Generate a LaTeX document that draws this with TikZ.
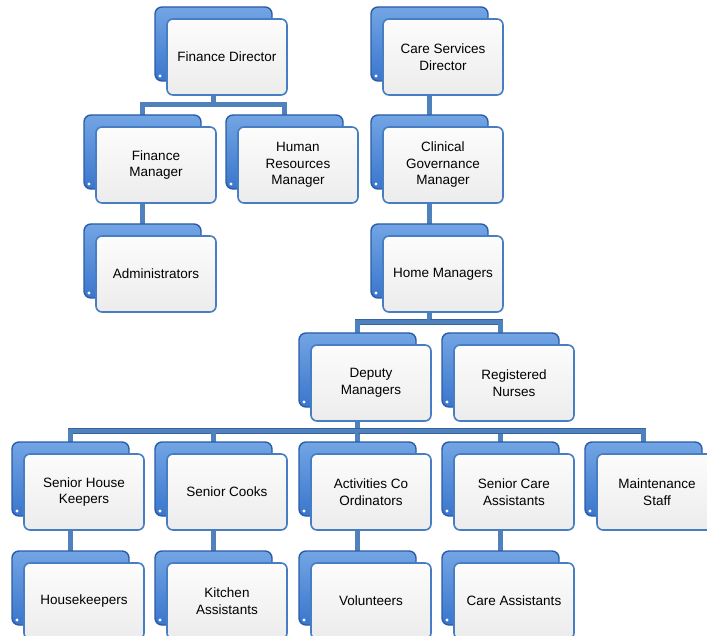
\documentclass[tikz,border=0pt]{standalone}
\usepackage{fontspec}
\setmainfont{Liberation Sans}
\usetikzlibrary{calc}
\pgfdeclarelayer{bg}
\pgfsetlayers{bg,main}
\definecolor{backfillT}{RGB}{115,165,228}
\definecolor{backfillB}{RGB}{58,118,205}
\definecolor{backline}{RGB}{42,92,168}
\definecolor{frontT}{RGB}{252,252,252}
\definecolor{frontB}{RGB}{236,236,236}
\definecolor{frontline}{RGB}{70,125,195}
\definecolor{connout}{RGB}{55,100,160}
\definecolor{connin}{RGB}{79,129,189}
\tikzset{
  backbox/.style={rectangle, rounded corners=7pt, minimum width=117pt, minimum height=74pt,
    top color=backfillT, bottom color=backfillB, draw=backline, line width=1.4pt,
    inner sep=0pt,
    path picture={\fill[white] ($(path picture bounding box.south west)+(5,-5)$) circle (1.6pt);}},
  frontbox/.style={rectangle, rounded corners=6pt, minimum width=120pt, minimum height=76pt,
    top color=frontT, bottom color=frontB, draw=frontline, line width=1.6pt,
    inner sep=2pt, align=center, font=\fontsize{13.5}{16.5}\selectfont},
  conn/.style={draw=connout, line width=0.8pt, double=connin, double distance=4.2pt}
}
\newcommand\orgunit[4]{%
  \node[backbox] (#1B) at ({#2-13.5},{#3-13}) {};
  \node[frontbox] (#1) at (#2,#3) {#4};}
\begin{document}
\begin{tikzpicture}[x=1pt,y=-1pt]
\useasboundingbox (0,0) rectangle (707,636);
\orgunit{fd}{227}{57}{Finance Director}
\orgunit{cs}{443}{57}{Care Services\\Director}
\orgunit{fm}{156}{165}{Finance\\Manager}
\orgunit{hr}{298}{165}{Human\\Resources\\Manager}
\orgunit{cg}{443}{165}{Clinical\\Governance\\Manager}
\orgunit{ad}{156}{274}{Administrators}
\orgunit{hm}{443}{274}{Home Managers}
\orgunit{dm}{371}{383}{Deputy\\Managers}
\orgunit{rn}{514}{383}{Registered\\Nurses}
\orgunit{shk}{84}{492}{Senior House\\Keepers}
\orgunit{sc}{227}{492}{Senior Cooks}
\orgunit{ac}{371}{492}{Activities Co\\Ordinators}
\orgunit{sca}{514}{492}{Senior Care\\Assistants}
\orgunit{ms}{657}{492}{Maintenance\\Staff}
\orgunit{hk}{84}{601}{Housekeepers}
\orgunit{ka}{227}{601}{Kitchen\\Assistants}
\orgunit{vo}{371}{601}{Volunteers}
\orgunit{ca}{514}{601}{Care Assistants}
\begin{pgfonlayer}{bg}
  \coordinate (fdBar) at ($(fd.center)!.5!(fmB.center)$);
  \draw[conn] (fdB.center) -- (fdB.center |- fdBar) -| (fmB.center);
  \draw[conn] (fdB.center |- fdBar) -| (hrB.center);
  \draw[conn] (csB.center) -- (cgB.center);
  \draw[conn] (cgB.center) -- (hmB.center);
  \draw[conn] (fmB.center) -- (adB.center);
  \coordinate (hmBar) at ($(hm.center)!.5!(dmB.center)$);
  \draw[conn] (hmB.center) -- (hmB.center |- hmBar) -| (dmB.center);
  \draw[conn] (hmB.center |- hmBar) -| (rnB.center);
  \coordinate (dmBar) at ($(dm.center)!.5!(acB.center)$);
  \draw[conn] (dmB.center) -- (dmB.center |- dmBar) -| (shkB.center);
  \draw[conn] (dmB.center |- dmBar) -| (scB.center);
  \draw[conn] (dmB.center |- dmBar) -| (acB.center);
  \draw[conn] (dmB.center |- dmBar) -| (scaB.center);
  \draw[conn] (dmB.center |- dmBar) -| (msB.center);
  \draw[conn] (shkB.center) -- (hkB.center);
  \draw[conn] (scB.center) -- (kaB.center);
  \draw[conn] (acB.center) -- (voB.center);
  \draw[conn] (scaB.center) -- (caB.center);
\end{pgfonlayer}
\end{tikzpicture}
\end{document}
